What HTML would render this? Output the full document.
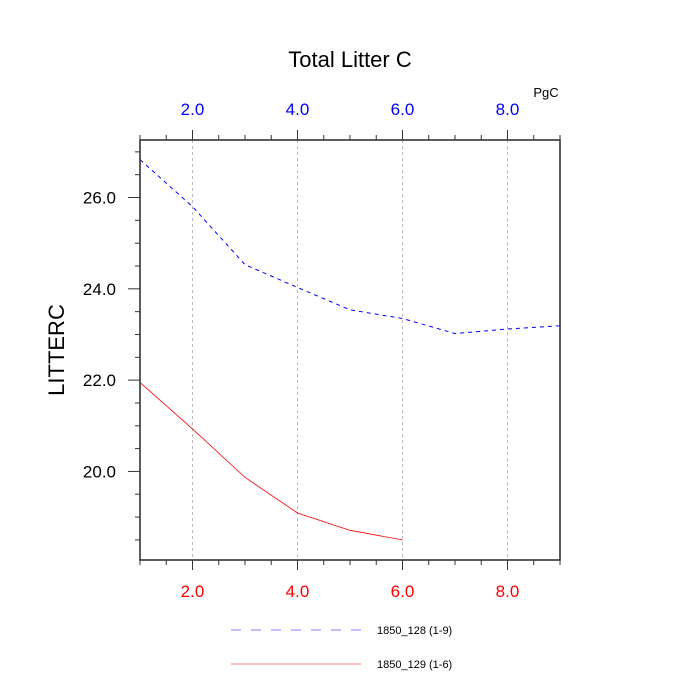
<!DOCTYPE html>
<html><head><meta charset="utf-8"><style>
body{margin:0;background:#fff}
svg{display:block;font-family:"Liberation Sans",Helvetica,Arial,sans-serif}
</style></head><body>
<svg id="chart" width="700" height="700" viewBox="0 0 700 700">
<text x="350" y="67" font-size="22" text-anchor="middle">Total Litter C</text>
<text x="546" y="97" font-size="13" text-anchor="middle">PgC</text>
<text transform="translate(64,350) rotate(-90)" font-size="22" text-anchor="middle">LITTERC</text>
<g id="grid"></g>
<g id="series"></g>
<rect x="140" y="140" width="420" height="420" fill="none" stroke="#333" stroke-width="1.6"/>
<g id="axes"></g>
<g>
<line x1="231" y1="630" x2="361" y2="630" stroke="#8080ff" stroke-width="1" stroke-dasharray="10,10"/>
<text x="377" y="634" font-size="11">1850_128 (1-9)</text>
<line x1="231" y1="664" x2="361" y2="664" stroke="#ff8080" stroke-width="1"/>
<text x="377" y="668" font-size="11">1850_129 (1-6)</text>
</g>
</svg>
<script>
const xValues = [1,2,3,4,5,6,7,8,9];
const series128 = [26.83,25.80,24.53,24.03,23.54,23.35,23.02,23.12,23.19];
const series129 = [21.95,20.93,19.87,19.09,18.71,18.50];
const xTicks = [2,4,6,8];
const xTickLabels = ["2.0","4.0","6.0","8.0"];
const yTicks = [20,22,24,26];
const yTickLabels = ["20.0","22.0","24.0","26.0"];

const X0=140,X1=560,Y0=560,Y1=140;
const xMin=1,xMax=9,yMin=18.06,yMax=27.26;
const sx=v=>X0+(v-xMin)/(xMax-xMin)*(X1-X0);
const sy=v=>Y0-(v-yMin)/(yMax-yMin)*(Y0-Y1);
const NS="http://www.w3.org/2000/svg";
function mk(tag,attrs,parent){const e=document.createElementNS(NS,tag);for(const k in attrs)e.setAttribute(k,attrs[k]);parent.appendChild(e);return e;}
const grid=document.getElementById('grid'),axes=document.getElementById('axes'),ser=document.getElementById('series');

xTicks.forEach((t,i)=>{
  const g=mk('line',{x1:sx(t),x2:sx(t),y1:Y1,y2:Y0,stroke:'#bbb','stroke-width':1,'stroke-dasharray':'3,3'},grid);
  
  
  const b=mk('text',{x:sx(t),y:597,'font-size':17,'text-anchor':'middle',fill:'#f00'},axes);
  b.textContent=xTickLabels[i];
  
  
  const tp=mk('text',{x:sx(t),y:115,'font-size':17,'text-anchor':'middle',fill:'#00f'},axes);
  tp.textContent=xTickLabels[i];
  
  
});
for(let v=xMin;v<=xMax+1e-9;v+=0.5){
  const major=Math.abs(v-Math.round(v/2)*2)<1e-9;
  const len=major?10:5;
  const l1=mk('line',{x1:sx(v),x2:sx(v),y1:Y0,y2:Y0+len,stroke:'#333','stroke-width':1},axes);
  
  
  const l2=mk('line',{x1:sx(v),x2:sx(v),y1:Y1,y2:Y1-len,stroke:'#333','stroke-width':1},axes);
  
  
}
yTicks.forEach((t,i)=>{
  const tx=mk('text',{x:116,y:sy(t)+6,'font-size':17,'text-anchor':'end'},axes);
  tx.textContent=yTickLabels[i];
  
  
});
for(let v=18.5;v<=yMax;v+=0.5){
  const major=Math.abs(v-Math.round(v/2)*2)<1e-9;
  const len=major?12:5;
  const l=mk('line',{x1:X0-len,x2:X0,y1:sy(v),y2:sy(v),stroke:'#333','stroke-width':1},axes);
  
  
}
const p1=mk('polyline',{points:series128.map((v,i)=>sx(xValues[i])+','+sy(v)).join(' '),fill:'none',stroke:'#00f','stroke-width':1,'stroke-dasharray':'4,4'},ser);


const p2=mk('polyline',{points:series129.map((v,i)=>sx(xValues[i])+','+sy(v)).join(' '),fill:'none',stroke:'#f00','stroke-width':0.8},ser);


</script>
</body></html>
